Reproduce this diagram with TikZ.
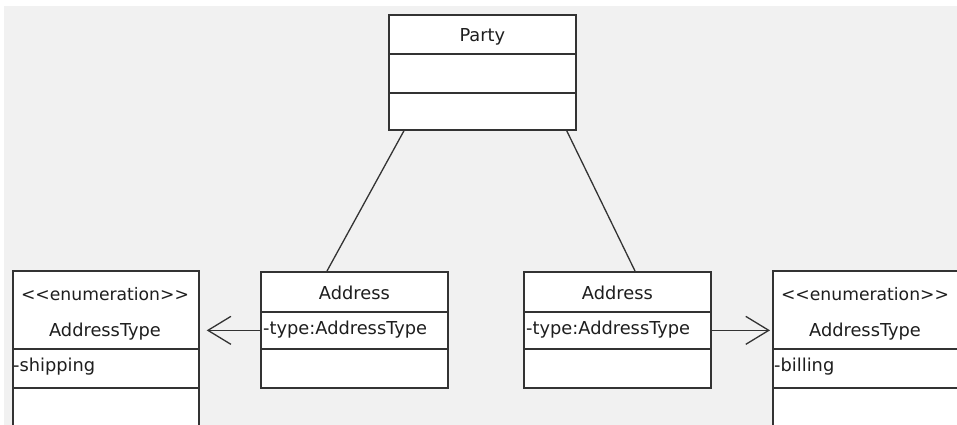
\documentclass[tikz,border=0pt]{standalone}
\usepackage{fontspec}
\setmainfont{DejaVu Sans}
\usetikzlibrary{arrows.meta,calc}
\definecolor{bg}{HTML}{F1F1F1}
\definecolor{ln}{HTML}{333333}
\definecolor{tx}{HTML}{1E1E1E}
\begin{document}
\begin{tikzpicture}[x=1pt,y=-1pt,
  comp/.style={draw=ln,line width=1.7pt,fill=white,rectangle,inner sep=0pt,anchor=north west},
  lbl/.style={text=tx,inner sep=0pt,font=\fontsize{17.8}{20}\selectfont},
  stereo/.style={text=tx,inner sep=0pt,font=\fontsize{17.2}{20}\selectfont},
  assoc/.style={draw=ln,line width=1.3pt},
  dep/.style={draw=ln,line width=1.3pt,-{Straight Barb[length=23pt,width=28pt,line width=1.3pt]}}]
\useasboundingbox (0,0) rectangle (957,425);
\fill[white] (0,0) rectangle (957,425);
\fill[bg] (4,6) rectangle (957,425);
\clip (0,0) rectangle (957,425);
% Party
\node[comp,minimum width=187pt,minimum height=39pt] (party) at (388,14) {};
\node[comp,minimum width=187pt,minimum height=39pt] (party2) at (388,53) {};
\node[comp,minimum width=187pt,minimum height=37pt] (party3) at (388,92) {};
\node[lbl] (partyt) at ($(party.center)+(0,2.5)$) {Party};
% Left enumeration
\node[comp,minimum width=186pt,minimum height=78pt] (encl) at (12,270) {};
\node[comp,minimum width=186pt,minimum height=39pt] (encl2) at (12,348) {};
\node[comp,minimum width=186pt,minimum height=38pt] (encl3) at (12,387) {};
\node[stereo] (encls) at (105,294) {{<}{<}enumeration{>}{>}};
\node[lbl] (encln) at (105,332) {AddressType};
\node[lbl,anchor=west] (encla) at (13,367) {-shipping};
% Left address
\node[comp,minimum width=187pt,minimum height=40pt] (addl) at (260,271) {};
\node[comp,minimum width=187pt,minimum height=37pt] (addl2) at (260,311) {};
\node[comp,minimum width=187pt,minimum height=39pt] (addl3) at (260,348) {};
\node[lbl] (addlt) at ($(addl.center)+(0,1.5)$) {Address};
\node[lbl,anchor=west] (addla) at (263,329.5) {-type:AddressType};
% Right address
\node[comp,minimum width=187pt,minimum height=40pt] (addr) at (523,271) {};
\node[comp,minimum width=187pt,minimum height=37pt] (addr2) at (523,311) {};
\node[comp,minimum width=187pt,minimum height=39pt] (addr3) at (523,348) {};
\node[lbl] (addrt) at ($(addr.center)+(0,1.5)$) {Address};
\node[lbl,anchor=west] (addra) at (526,329.5) {-type:AddressType};
% Right enumeration
\node[comp,minimum width=210pt,minimum height=78pt] (encr) at (772,270) {};
\node[comp,minimum width=210pt,minimum height=39pt] (encr2) at (772,348) {};
\node[comp,minimum width=210pt,minimum height=38pt] (encr3) at (772,387) {};
\node[stereo] (encrs) at (865,294) {{<}{<}enumeration{>}{>}};
\node[lbl] (encrn) at (865,332) {AddressType};
\node[lbl,anchor=west] (encra) at (774,367) {-billing};
% connectors
\coordinate (pl) at ($(party3.south west)+(16,0)$);
\coordinate (pr) at ($(party3.south east)+(-10,0)$);
\coordinate (al) at ($(addl.north west)+(67,0)$);
\coordinate (ar) at ($(addr.north west)+(112,0)$);
\draw[assoc] (pl) -- (al);
\draw[assoc] (pr) -- (ar);
\draw[dep,shorten >=7pt] (addl2.west) -- (addl2.west -| encl.east);
\draw[dep,shorten >=2pt] (addr2.east) -- (addr2.east -| encr.west);
\end{tikzpicture}
\end{document}
